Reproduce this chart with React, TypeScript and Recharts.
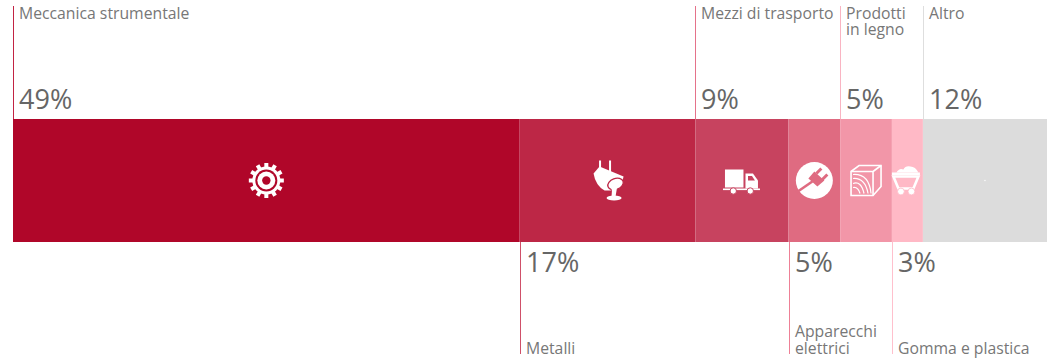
import React from "react";
import { BarChart, Bar, XAxis, YAxis } from "recharts";

// Share of each sector, in percent
const sectors = [
  "Meccanica strumentale",
  "Metalli",
  "Mezzi di trasporto",
  "Apparecchi elettrici",
  "Prodotti in legno",
  "Gomma e plastica",
  "Altro",
];
const shares = [49, 17, 9, 5, 5, 3, 12];

// Wrapped callout text for each sector
const captionLines = [
  ["Meccanica strumentale"],
  ["Metalli"],
  ["Mezzi di trasporto"],
  ["Apparecchi", "elettrici"],
  ["Prodotti", "in legno"],
  ["Gomma e plastica"],
  ["Altro"],
];
const calloutSides = ["top", "bottom", "top", "bottom", "top", "bottom", "top"];
const iconNames = ["gear", "ladle", "truck", "plug", "wood", "cart", "dot"];

const fills = ["#B00629", "#BD2746", "#C7435F", "#DF6B81", "#F296A8", "#FFB9C6", "#DCDCDC"];
const ruleColors = ["#C22343", "#CF5069", "#E5728A", "#EE8096", "#F9B4C2", "#FFC0CD", "#DEDEDE"];

const tableRow: Record<string, number | string> = { name: "Settori" };
sectors.forEach((s, i) => {
  tableRow[s] = shares[i];
});
const table = [tableRow];

const FONT = "'Open Sans', sans-serif";
const WIDTH = 1048;
const HEIGHT = 359;

function GearIcon({ bg }: { bg: string }) {
  const teeth = Array.from({ length: 12 }, (_, i) => i * 30);
  return (
    <g>
      {teeth.map((a) => (
        <rect key={a} x={-2} y={-17.5} width={4} height={6} fill="#fff" transform={`rotate(${a})`} />
      ))}
      <circle r={14} fill="#fff" />
      <circle r={11} fill={bg} />
      <circle r={9} fill="#fff" />
      <circle r={4.2} fill={bg} />
    </g>
  );
}

function LadleIcon({ bg }: { bg: string }) {
  return (
    <g>
      <path d="M-7.5-20V-10M2.5-20V-6" stroke="#fff" strokeWidth={2} />
      <path d="M-14-7-8-14 16-4 14 4 3 10-3 10Q-12 5-14-7Z" fill="#fff" />
      <ellipse cx={8} cy={3.5} rx={8} ry={5.5} fill="#fff" stroke={bg} strokeWidth={1.3} transform="rotate(-20 8 3.5)" />
      <path d="M3 4H10Q9 10 8 16H4Q5 10 3 4Z" fill="#fff" />
      <ellipse cx={6.5} cy={17.5} rx={7.5} ry={2.4} fill="#fff" />
    </g>
  );
}

function TruckIcon({ bg }: { bg: string }) {
  return (
    <g>
      <rect x={-17} y={-11} width={18.5} height={18} fill="#fff" />
      <path d="M3.5-7H11L16 0V8H3.5Z" fill="#fff" />
      <path d="M6-4.5H10L13 0H6Z" fill={bg} />
      <rect x={-19} y={8} width={37} height={1.6} fill="#fff" />
      <circle cx={-8.7} cy={10.5} r={3.2} fill="#fff" stroke={bg} strokeWidth={1} />
      <circle cx={8.3} cy={10.5} r={3.2} fill="#fff" stroke={bg} strokeWidth={1} />
    </g>
  );
}

function PlugIcon({ bg }: { bg: string }) {
  return (
    <g>
      <circle r={18.5} fill="#fff" />
      <path d="M-18 12-2 1" stroke={bg} strokeWidth={2.6} />
      <path d="M-6-2 0-9 10 0 3 6Z" fill={bg} />
      <path d="M2-7 7-12M8-1 13-6" stroke={bg} strokeWidth={3} />
    </g>
  );
}

function WoodIcon() {
  return (
    <g fill="none" stroke="#fff">
      <path d="M-15-9-7-15H15V6L7 15H-15Z" strokeWidth={1.6} />
      <path d="M-15-9H7V15M7-9 15-15" strokeWidth={1.6} />
      <path d="M-13 3Q-5 0-2 13M-13-2Q-1-3 2 13M-13-6Q3-7 5 13M-13 7Q-8 6-6 13" strokeWidth={1.2} />
    </g>
  );
}

function CartIcon({ bg }: { bg: string }) {
  return (
    <g>
      <path d="M-11-8Q-8-13-4-11-2-15 3-14 8-14 11-8Z" fill="#fff" />
      <rect x={-15.5} y={-8} width={28} height={2.6} fill="#fff" />
      <path d="M-14-4H11L6 8H-9Z" fill="none" stroke="#fff" strokeWidth={2.6} />
      <circle cx={-6.5} cy={11} r={3.4} fill="#fff" stroke={bg} strokeWidth={0.8} />
      <circle cx={4} cy={11} r={3.4} fill="#fff" stroke={bg} strokeWidth={0.8} />
    </g>
  );
}

function SectorIcon({ name, bg }: { name: string; bg: string }) {
  if (name === "gear") return <GearIcon bg={bg} />;
  if (name === "ladle") return <LadleIcon bg={bg} />;
  if (name === "truck") return <TruckIcon bg={bg} />;
  if (name === "plug") return <PlugIcon bg={bg} />;
  if (name === "wood") return <WoodIcon />;
  if (name === "cart") return <CartIcon bg={bg} />;
  return <circle r={0.7} fill="#fff" />;
}

// One bar segment with its icon, vertical rule, percentage and caption
function segmentShape(index: number) {
  return function Segment(props: any) {
    const { x, y, width, height } = props;
    const top = calloutSides[index] === "top";
    const ruleX = Math.round(x) + 0.5;
    const textX = ruleX + 5.5;
    const lines = captionLines[index];
    const lineStep = top ? 16 : 17;
    const firstBaseline = top ? 19 : 354 - (lines.length - 1) * lineStep;
    return (
      <g>
        <rect x={x} y={y} width={width} height={height} fill={fills[index]} />
        <g transform={`translate(${x + width / 2},${y + height / 2})`}>
          <SectorIcon name={iconNames[index]} bg={fills[index]} />
        </g>
        <line
          x1={ruleX}
          x2={ruleX}
          y1={top ? 6 : y + height}
          y2={top ? y : 354}
          stroke={ruleColors[index]}
          strokeWidth={1}
        />
        <text x={textX} y={top ? 109 : 272} fontFamily={FONT} fontSize={27} fill="#666666">
          {shares[index]}%
        </text>
        <text x={textX} y={firstBaseline} fontFamily={FONT} fontSize={15.75} fill="#777777">
          {lines.map((line, i) => (
            <tspan key={line} x={textX} dy={i === 0 ? 0 : lineStep}>
              {line}
            </tspan>
          ))}
        </text>
      </g>
    );
  };
}

export default function App() {
  return (
    <div style={{ position: "absolute", left: 0, top: 0, width: WIDTH, height: HEIGHT, background: "#fff" }}>
      <BarChart
        width={WIDTH}
        height={HEIGHT}
        data={table}
        layout="vertical"
        barCategoryGap={0}
        margin={{ top: 119, right: 1, bottom: 117, left: 13 }}
      >
        <XAxis type="number" domain={[0, 100]} hide />
        <YAxis type="category" dataKey="name" hide />
        {sectors.map((s, i) => (
          <Bar key={s} dataKey={s} stackId="quota" isAnimationActive={false} shape={segmentShape(i)} />
        ))}
      </BarChart>
    </div>
  );
}
